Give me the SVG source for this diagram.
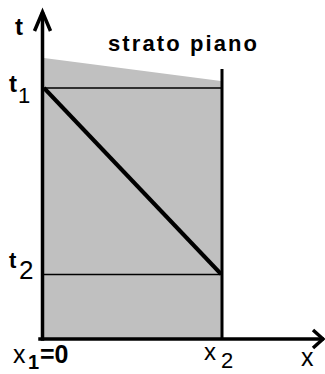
<svg xmlns="http://www.w3.org/2000/svg" width="325" height="374" viewBox="0 0 325 374">
<style>
.ax{stroke:#000;stroke-width:3.5;fill:none;stroke-linecap:square}
.head{stroke:#000;stroke-width:3.5;fill:none;stroke-linejoin:miter}
.thin{stroke:#000;stroke-width:1.6;fill:none}
.lbl{font-family:"Liberation Sans",Arial,sans-serif;fill:#000}
.b{font-weight:bold}
</style>
<rect width="325" height="374" fill="#fff"/>
<g id="layer">
<polygon points="44,58 221,81 221,338 44,338" fill="#c0c0c0"/>
</g>
<g id="connectors">
<line class="thin" x1="43" y1="88" x2="221" y2="88"/>
<line class="thin" x1="43" y1="274.5" x2="221" y2="274.5"/>
<line x1="44" y1="88" x2="221" y2="274" stroke="#000" stroke-width="4"/>
<line class="ax" x1="42.5" y1="14" x2="42.5" y2="339"/>
<polyline class="head" points="34.5,31 42.5,12 50.5,31"/>
<line class="ax" x1="40" y1="339" x2="322" y2="339"/>
<polyline class="head" points="313,330 323,339 313,348"/>
<line x1="222" y1="69" x2="222" y2="339" stroke="#000" stroke-width="3"/>
</g>
<g id="labels" class="lbl">
<text x="15" y="35" font-size="24" class="b">t</text>
<text x="108" y="51" font-size="22" class="b" textLength="149" lengthAdjust="spacing">strato piano</text>
<text x="9" y="92" font-size="24" class="b">t</text>
<text x="18" y="103" font-size="22">1</text>
<text x="9" y="268" font-size="22" class="b">t</text>
<text x="19" y="279" font-size="26">2</text>
<text x="13" y="363" font-size="25">x</text>
<text x="28" y="369" font-size="20" class="b">1</text>
<text x="40" y="363" font-size="25" class="b">=0</text>
<text x="204" y="360" font-size="24">x</text>
<text x="221" y="368" font-size="22">2</text>
<text x="301" y="366" font-size="25">x</text>
</g>
</svg>
